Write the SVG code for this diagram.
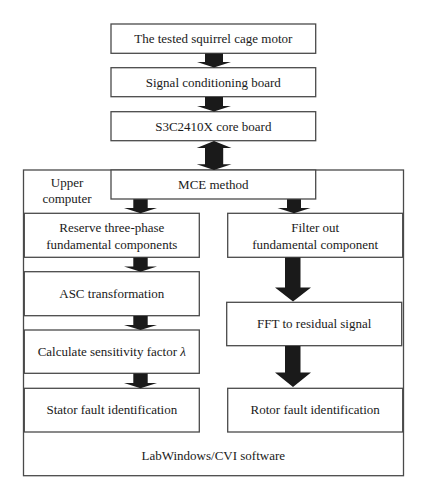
<svg xmlns="http://www.w3.org/2000/svg" width="427" height="500" viewBox="0 0 427 500">
<style>
.box{fill:#fff;stroke:#4a4a4a;stroke-width:1.3}
.outer{fill:#fff;stroke:#4a4a4a;stroke-width:1.3}
.t{font-family:"Liberation Serif","Times New Roman",serif;font-size:13px;fill:#1a1a1a;text-anchor:middle}
.arr{fill:#1a1a1a}
</style>
<rect width="427" height="500" fill="#fff"/>
<g id="upper-computer">
<rect class="outer" x="23.5" y="170" width="380" height="305.7"/>
<text class="t" x="67" y="186.7">Upper</text>
<text class="t" x="67" y="203.3">computer</text>
<text class="t" x="213.3" y="460">LabWindows/CVI software</text>
</g>
<g id="motor"><rect class="box" x="111" y="24" width="204.7" height="29.3"/><text class="t" x="213.3" y="43">The tested squirrel cage motor</text></g>
<g id="signal"><rect class="box" x="111" y="67.7" width="204.7" height="29"/><text class="t" x="213.3" y="86.5">Signal conditioning board</text></g>
<g id="core"><rect class="box" x="111" y="111.7" width="204.7" height="29"/><text class="t" x="213.3" y="130.5">S3C2410X core board</text></g>
<g id="mce"><rect class="box" x="111" y="170" width="204.7" height="29"/><text class="t" x="213.3" y="188.5">MCE method</text></g>
<g id="reserve"><rect class="box" x="24.3" y="213.3" width="175" height="44"/><text class="t" x="111.8" y="232.3">Reserve three-phase</text><text class="t" x="111.8" y="249">fundamental components</text></g>
<g id="asc"><rect class="box" x="24.3" y="271.7" width="175" height="44"/><text class="t" x="111.8" y="297.5">ASC transformation</text></g>
<g id="calc"><rect class="box" x="24.3" y="330" width="175" height="43.3"/><text class="t" x="111.8" y="356">Calculate sensitivity factor <tspan font-style="italic">λ</tspan></text></g>
<g id="stator"><rect class="box" x="24.3" y="388.3" width="175" height="43.7"/><text class="t" x="111.8" y="414.3">Stator fault identification</text></g>
<g id="filter"><rect class="box" x="227.7" y="213.3" width="175" height="44"/><text class="t" x="315.2" y="232.3">Filter out</text><text class="t" x="315.2" y="249">fundamental component</text></g>
<g id="fft"><rect class="box" x="226.7" y="302.3" width="175" height="43.4"/><text class="t" x="314.2" y="328.3">FFT to residual signal</text></g>
<g id="rotor"><rect class="box" x="227.7" y="388.3" width="175" height="43.7"/><text class="t" x="315.2" y="414.3">Rotor fault identification</text></g>
<g id="connectors">
<polygon class="arr" points="205,53.5 223,53.5 223,62 231,62 214,67.5 197,62 205,62"/>
<polygon class="arr" points="205,97 223,97 223,106 231,106 214,111.5 197,106 205,106"/>
<polygon class="arr" points="214,141 231.5,148 223.2,148 223.2,164.3 231.5,164.3 214,170 196.7,164.3 205,164.3 205,148 196.7,148"/>
<polygon class="arr" points="133.3,199.2 147.7,199.2 147.7,208 157,208 140.5,213.3 124,208 133.3,208"/>
<polygon class="arr" points="133.3,257.5 147.7,257.5 147.7,266.5 157,266.5 140.5,271.7 124,266.5 133.3,266.5"/>
<polygon class="arr" points="133.3,315.9 147.7,315.9 147.7,325 157,325 140.5,330 124,325 133.3,325"/>
<polygon class="arr" points="133.3,373.5 147.7,373.5 147.7,383 157,383 140.5,388.3 124,383 133.3,383"/>
<polygon class="arr" points="287,199.2 301,199.2 301,208 310.5,208 294,213.3 277.5,208 287,208"/>
<polygon class="arr" points="285,257.5 300.5,257.5 300.5,287.5 311,287.5 293,301.5 275,287.5 285,287.5"/>
<polygon class="arr" points="285,345.9 300.5,345.9 300.5,372.5 311,372.5 293,387 275,372.5 285,372.5"/>
</g>
</svg>
